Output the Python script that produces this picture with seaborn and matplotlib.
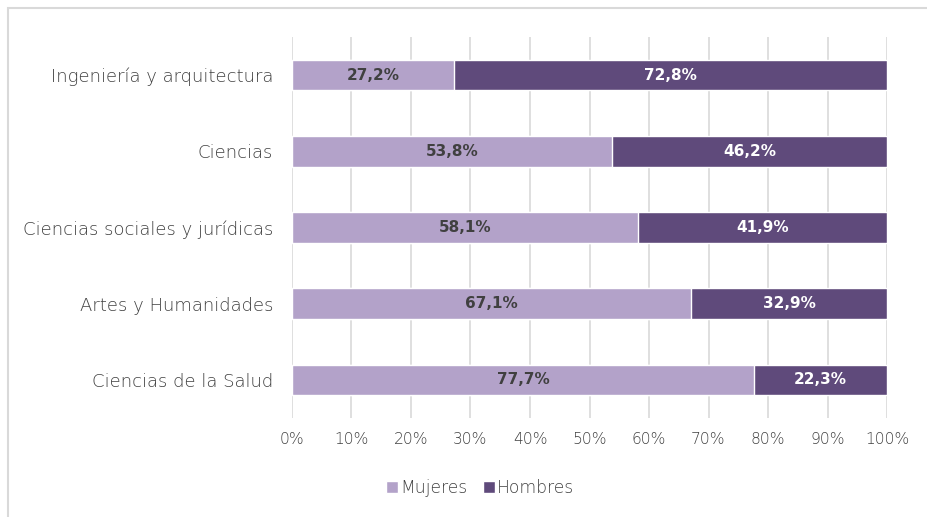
import matplotlib
matplotlib.use("Agg")
import matplotlib.pyplot as plt
from matplotlib.patches import Patch, Rectangle
import seaborn as sns
import pandas as pd

ramas = [
    "Ingeniería y arquitectura",
    "Ciencias",
    "Ciencias sociales y jurídicas",
    "Artes y Humanidades",
    "Ciencias de la Salud",
]
mujeres = [27.2, 53.8, 58.1, 67.1, 77.7]
hombres = [72.8, 46.2, 41.9, 32.9, 22.3]
ticks = [0, 10, 20, 30, 40, 50, 60, 70, 80, 90, 100]

COL_M = "#b3a2c9"
COL_H = "#5f4a7b"
GRID = "#d9d9d9"
TXT = "#404040"

sns.set_theme(style="white")
plt.rcParams["font.family"] = ["DejaVu Sans"]

df = pd.DataFrame({"rama": ramas, "Mujeres": mujeres, "Hombres": hombres})
df["total"] = df["Mujeres"] + df["Hombres"]

fig = plt.figure(figsize=(9.28, 5.17), dpi=100)
ax = fig.add_axes([292 / 928, 1 - 418 / 517, 595 / 928, 381 / 517])

# stacked bars: full width in the dark tone, women's share drawn over it
sns.barplot(data=df, y="rama", x="total", color=COL_H, width=0.40,
            saturation=1, orient="h", ax=ax, zorder=3)
sns.barplot(data=df, y="rama", x="Mujeres", color=COL_M, width=0.40,
            saturation=1, orient="h", ax=ax, zorder=4)

for i, (m, h) in enumerate(zip(mujeres, hombres)):
    ax.text(m / 2, i, f"{m:.1f}%".replace(".", ","), ha="center", va="center",
            fontsize=11, fontweight="bold", color="#404040", zorder=5)
    ax.text(m + h / 2, i, f"{h:.1f}%".replace(".", ","), ha="center", va="center",
            fontsize=11, fontweight="bold", color="white", zorder=5)

ax.set_xlim(0, 100)
ax.set_xticks(ticks)
ax.set_xticklabels([f"{t}%" for t in ticks])
ax.xaxis.grid(True, color=GRID, linewidth=1.2, zorder=0)
ax.set_axisbelow(True)
ax.set_xlabel("")
ax.set_ylabel("")
for s in ax.spines.values():
    s.set_visible(False)
ax.tick_params(axis="x", length=0, pad=10, labelsize=11.2, labelcolor=TXT)
ax.tick_params(axis="y", length=0, pad=13.5, labelsize=13, labelcolor=TXT)
for lab in ax.get_xticklabels() + ax.get_yticklabels():
    lab.set_fontweight("light")

handles = [Patch(facecolor=COL_M, label="Mujeres"),
           Patch(facecolor=COL_H, label="Hombres")]
leg = fig.legend(handles=handles, loc="center", bbox_to_anchor=(480 / 928, 1 - 488 / 517),
                 ncol=2, frameon=False, fontsize=12.3, labelcolor=TXT,
                 handlelength=0.7, handleheight=0.7, handletextpad=0.15,
                 columnspacing=0.9)
for t in leg.get_texts():
    t.set_fontweight("light")

# chart frame
fig.patches.append(Rectangle((8 / 928, -0.1), 1.2, 1 - 8 / 517 + 0.1,
                             transform=fig.transFigure, fill=False,
                             edgecolor="#d9d9d9", linewidth=1.5))

fig.savefig("out.png", dpi=100, facecolor="white")
